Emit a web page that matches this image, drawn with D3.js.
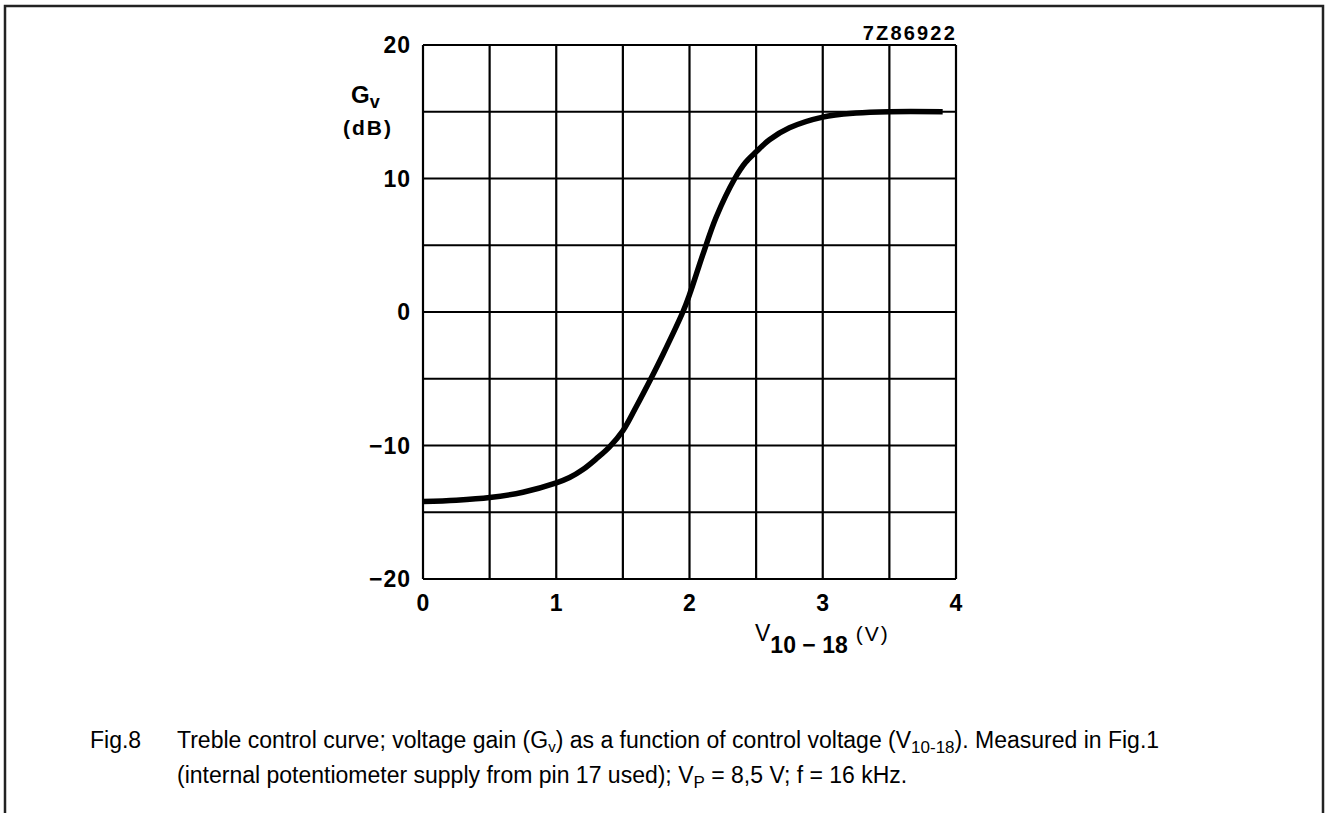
<!DOCTYPE html>
<html><head><meta charset="utf-8">
<script src="https://cdn.jsdelivr.net/npm/d3@7"></script>
<style>body{margin:0;background:#fff}svg{display:block}</style>
</head><body>
<svg id="c" width="1326" height="813"></svg>
<script>
const voltage = [0, 0.25, 0.5, 0.75, 1.0, 1.1, 1.2, 1.3, 1.4, 1.5, 1.6, 1.71, 1.8, 1.95, 2.0, 2.1, 2.2, 2.34, 2.42, 2.5, 2.6, 2.75, 3.0, 3.25, 3.5, 3.9];
const gain    = [-14.2, -14.1, -13.9, -13.5, -12.8, -12.4, -11.8, -11.0, -10.1, -8.9, -7.1, -5.0, -3.2, 0, 1.3, 4.3, 7.1, 10.0, 11.2, 12.0, 12.9, 13.8, 14.6, 14.9, 15.0, 15.0];
const xTicks = [0, 1, 2, 3, 4];
const yTicks = [20, 10, 0, -10, -20];
const xGrid = [0, 0.5, 1, 1.5, 2, 2.5, 3, 3.5, 4];
const yGrid = [-20, -15, -10, -5, 0, 5, 10, 15, 20];

const svg = d3.select("#c");
const x = d3.scaleLinear().domain([0, 4]).range([423, 956]);
const y = d3.scaleLinear().domain([-20, 20]).range([579, 45]);

// outer frame
svg.append("path").attr("d","M5,830 L5,6 L1323,6 L1323,830")
  .attr("fill","none").attr("stroke","#222").attr("stroke-width",2.5);

const g = svg.append("g");
g.selectAll(".vx").data(xGrid).join("line")
  .attr("x1", d=>x(d)).attr("x2", d=>x(d)).attr("y1", y(-20)).attr("y2", y(20))
  .attr("stroke","#000").attr("stroke-width",2.2);
g.selectAll(".hy").data(yGrid).join("line")
  .attr("y1", d=>y(d)).attr("y2", d=>y(d)).attr("x1", x(0)).attr("x2", x(4))
  .attr("stroke","#000").attr("stroke-width",2.2);

// curve
const pts = voltage.map((v,i)=>[v, gain[i]]);
g.append("path").datum(pts)
  .attr("d", d3.line().x(d=>x(d[0])).y(d=>y(d[1])).curve(d3.curveCatmullRom.alpha(0.5)))
  .attr("fill","none").attr("stroke","#000").attr("stroke-width",5.5).attr("stroke-linecap","butt");

const bold = "'Liberation Sans', Arial, sans-serif";
// y tick labels
svg.selectAll(".yt").data(yTicks).join("text")
  .attr("x", 411).attr("y", d=>y(d)).attr("dy","0.36em")
  .attr("text-anchor","end").attr("font-family",bold).attr("font-weight","bold")
  .attr("font-size",23).attr("letter-spacing","1px")
  .text(d => d < 0 ? "\u2212" + Math.abs(d) : d);
// x tick labels
svg.selectAll(".xt").data(xTicks).join("text")
  .attr("x", d=>x(d)).attr("y", 603).attr("dy","0.36em")
  .attr("text-anchor","middle").attr("font-family",bold).attr("font-weight","bold")
  .attr("font-size",23).text(d=>d);

// y axis title
const gv = svg.append("text").attr("x",351).attr("y",103).attr("font-family",bold).attr("font-weight","bold").attr("font-size",24);
gv.append("tspan").text("G");
gv.append("tspan").attr("dy",5).attr("font-size",18).text("v");
svg.append("text").attr("x",343).attr("y",135).attr("font-family",bold).attr("font-weight","bold")
  .attr("font-size",21).attr("letter-spacing","2px").text("(dB)");

// x axis title
const xt = svg.append("text").attr("x",755).attr("y",641).attr("font-family",bold).attr("font-weight","bold").attr("font-size",23);
xt.append("tspan").attr("font-weight","normal").text("V");
xt.append("tspan").attr("dy",12).attr("font-size",23).text("10 \u2212 18");
xt.append("tspan").attr("dy",-12).attr("dx",8).attr("font-size",21).attr("font-weight","normal").attr("letter-spacing","2px").text("(V)");

// figure code
svg.append("text").attr("x",957).attr("y",40).attr("text-anchor","end")
  .attr("font-family",bold).attr("font-weight","bold")
  .attr("font-size",20).attr("letter-spacing","2.2px").text("7Z86922");

// caption
const cf = "'Liberation Sans', Arial, sans-serif";
svg.append("text").attr("x",90).attr("y",748).attr("font-family",cf).attr("font-size",23).text("Fig.8");
const l1 = svg.append("text").attr("x",177).attr("y",748).attr("font-family",cf).attr("font-size",23);
l1.append("tspan").text("Treble control curve; voltage gain (G");
l1.append("tspan").attr("dy",4).attr("font-size",15).text("v");
l1.append("tspan").attr("dy",-4).text(") as a function of control voltage (V");
l1.append("tspan").attr("dy",5).attr("font-size",17).text("10-18");
l1.append("tspan").attr("dy",-5).text("). Measured in Fig.1");
const l2 = svg.append("text").attr("x",177).attr("y",783).attr("font-family",cf).attr("font-size",23);
l2.append("tspan").text("(internal potentiometer supply from pin 17 used); V");
l2.append("tspan").attr("dy",5).attr("font-size",17).text("P");
l2.append("tspan").attr("dy",-5).text(" = 8,5 V; f = 16 kHz.");
</script>
</body></html>
